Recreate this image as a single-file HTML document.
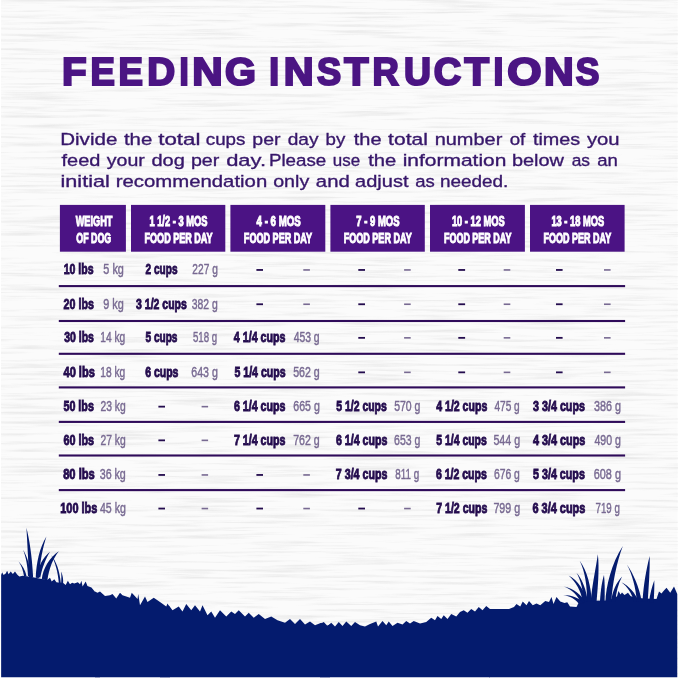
<!DOCTYPE html>
<html><head><meta charset="utf-8"><title>Feeding Instructions</title>
<style>
html,body{margin:0;padding:0;background:#ffffff;}
body{width:679px;height:679px;overflow:hidden;font-family:"Liberation Sans",sans-serif;}
svg{display:block;position:absolute;left:0;top:0;will-change:transform;}
text{font-family:"Liberation Sans",sans-serif;}
</style></head><body>
<svg width="679" height="679" viewBox="0 0 679 679">
<defs>
<filter id="wood" x="0" y="0" width="100%" height="100%">
<feTurbulence type="fractalNoise" baseFrequency="0.012 0.33" numOctaves="4" seed="5" result="n"/>
<feColorMatrix type="matrix" values="0 0 0 0 0.5  0 0 0 0 0.5  0 0 0 0 0.5  1.7 0 0 0 -0.80"/>
</filter>
</defs>
<rect x="0" y="0" width="679" height="679" fill="#ffffff"/>
<rect x="1" y="0" width="676.5" height="677" fill="#fbfbfb"/>
<rect x="1" y="0" width="676.5" height="677" filter="url(#wood)" opacity="0.4"/>
<g fill="#041b6e">
<!-- left part: 7x coords, offset (0,520) -->
<g transform="translate(0,520) scale(0.142857)">
<path d="M8,385 L15,365 L25,385 L40,375 L50,355 L60,380 L75,360 L90,378 L105,360 L120,382 L135,395 L160,390 L200,395 L240,402 L275,410 L330,420 L350,405 L362,430 L380,415 L395,435 L420,440 L440,440 L460,455 L475,425 L490,450 L505,440 L520,445 L545,435 L560,450 L570,425 L578,465 L600,430 L612,462 L640,472 L679,520 L700,540 L700,1100 L8,1100 Z"/>
<path d="M203,400 C199,300 191,160 185,55 C206,140 224,250 232,402 Z"/>
<path d="M250,404 C254,300 278,190 325,115 C300,190 280,290 272,406 Z"/>
<path d="M196,392 C194,320 180,255 162,208 C190,255 210,320 216,392 Z"/>
<path d="M168,392 C162,350 148,315 130,290 C155,315 178,350 186,394 Z"/>
<path d="M292,416 C302,335 346,262 412,218 C372,268 342,340 332,422 Z"/>
<path d="M258,400 C268,320 302,260 350,222 C322,268 296,330 282,402 Z"/>
<path d="M358,245 C395,290 418,360 426,442 L412,442 C406,370 390,300 358,245 Z"/>
<path d="M428,442 C430,410 430,385 428,360 C438,385 444,410 442,444 Z"/>
</g>
<!-- segment 1b: 4x coords offset (0,509), from x=97 onwards -->
<g transform="translate(0,509) scale(0.25)">
<path d="M380,330 L390,335 L400,330 L420,348 L440,345 L450,340 L465,358 L480,335 L490,345 L520,355 L527,335 L550,360 L553,340 L560,385 L580,350 L590,372 L615,355 L640,372 L665,390 L670,378 L680,395 L680,673.2 L380,673.2 Z"/>
</g>
<!-- segment 2: offset (160,509) -->
<g transform="translate(160,509) scale(0.25)">
<path d="M0,375 L10,385 L25,400 L35,385 L50,405 L75,390 L90,410 L105,380 L125,405 L140,385 L160,410 L170,385 L190,425 L205,410 L220,435 L240,405 L265,430 L285,410 L300,420 L315,405 L340,430 L355,415 L375,435 L395,420 L420,440 L445,430 L470,445 L500,455 L520,440 L540,460 L560,440 L580,462 L600,450 L620,465 L645,455 L660,470 L680,462 L680,673.2 L0,673.2 Z"/>
</g>
<!-- segment 3: offset (320,509) -->
<g transform="translate(320,509) scale(0.25)">
<path d="M0,460 L15,452 L30,468 L45,455 L60,470 L75,452 L90,468 L105,450 L125,468 L140,452 L160,465 L180,470 L200,460 L225,450 L232,470 L250,448 L265,465 L275,450 L290,468 L310,455 L330,462 L345,448 L360,458 L375,448 L400,458 L425,452 L445,435 L460,445 L470,428 L485,440 L495,425 L510,440 L525,420 L545,430 L560,412 L575,405 L590,415 L605,400 L620,410 L635,392 L650,405 L665,388 L680,400 L680,673.2 L0,673.2 Z"/>
</g>
<!-- segment 4 body: 4x coords offset (509,509) -->
<g transform="translate(509,509) scale(0.25)">
<path d="M-80,400 L0,400 L20,392 L30,380 L45,390 L55,370 L70,385 L80,368 L95,385 L110,378 L125,385 L145,368 L160,372 L170,352 L178,380 L190,352 L205,370 L222,376 L233,373 L244,390 L270,392 L278,376 L298,367 L400,366 L420,354 L432,350 L438,328 L446,342 L452,334 L462,344 L476,335 L486,348 L500,354 L540,358 L590,360 L600,330 L610,338 L618,328 L630,315 L645,335 L660,310 L673,340 L673,673.2 L-80,673.2 Z"/>
</g>
<!-- right clump blades: 7x coords offset (550,530) -->
<g transform="translate(550,530) scale(0.142857)">
<path d="M388,500 C392,400 430,230 510,112 C468,220 436,380 430,500 Z"/>
<path d="M285,500 C296,380 322,260 335,170 C346,270 336,390 326,500 Z"/>
<path d="M258,500 C262,400 245,290 208,215 C262,290 288,400 292,500 Z"/>
<path d="M236,500 C234,430 215,350 185,300 C230,350 256,430 264,500 Z"/>
<path d="M228,500 C220,430 180,360 130,318 C195,350 245,430 258,500 Z"/>
<path d="M212,505 C200,460 150,415 98,395 C165,410 225,455 244,505 Z"/>
<path d="M198,512 C180,485 140,462 92,455 C150,455 210,478 238,512 Z"/>
<path d="M350,500 C354,420 364,360 378,315 C384,370 384,430 382,500 Z"/>
<path d="M428,500 C436,430 462,370 505,325 C478,375 462,435 458,500 Z"/>
<path d="M588,500 C572,440 540,395 500,365 C552,390 596,440 622,500 Z"/>
<path d="M608,500 C600,400 575,310 538,242 C585,310 625,400 642,500 Z"/>
<path d="M648,500 C655,380 675,270 698,182 C700,290 690,400 684,500 Z"/>
<path d="M693,505 C700,450 714,395 730,352 C732,400 728,455 726,505 Z"/>
</g>
</g>

<rect x="59.9" y="204.9" width="66.00" height="46.8" fill="#4b1384"/>
<rect x="131.0" y="204.9" width="94.30" height="46.8" fill="#4b1384"/>
<rect x="230.4" y="204.9" width="94.90" height="46.8" fill="#4b1384"/>
<rect x="330.4" y="204.9" width="94.40" height="46.8" fill="#4b1384"/>
<rect x="430.0" y="204.9" width="94.90" height="46.8" fill="#4b1384"/>
<rect x="530.0" y="204.9" width="94.60" height="46.8" fill="#4b1384"/>
<rect x="58.8" y="285.05" width="566.30" height="2.1" fill="#2f0b5a"/>
<rect x="58.8" y="319.95" width="566.30" height="2.1" fill="#2f0b5a"/>
<rect x="58.8" y="352.75" width="566.30" height="2.1" fill="#2f0b5a"/>
<rect x="58.8" y="386.35" width="566.30" height="2.1" fill="#2f0b5a"/>
<rect x="58.8" y="420.85" width="566.30" height="2.1" fill="#2f0b5a"/>
<rect x="58.8" y="454.45" width="566.30" height="2.1" fill="#2f0b5a"/>
<rect x="58.8" y="489.05" width="566.30" height="2.1" fill="#2f0b5a"/>
<rect x="158.4" y="405.75" width="6.60" height="1.8" fill="#240c4e"/>
<rect x="201.6" y="405.85" width="6.50" height="1.6" fill="#786a92"/>
<rect x="158.4" y="439.45" width="6.60" height="1.8" fill="#240c4e"/>
<rect x="201.6" y="439.55" width="6.50" height="1.6" fill="#786a92"/>
<rect x="158.4" y="474.05" width="6.60" height="1.8" fill="#240c4e"/>
<rect x="201.6" y="474.15" width="6.50" height="1.6" fill="#786a92"/>
<rect x="158.4" y="507.65" width="6.60" height="1.8" fill="#240c4e"/>
<rect x="201.6" y="507.75" width="6.50" height="1.6" fill="#786a92"/>
<rect x="256.4" y="269.05" width="6.60" height="1.8" fill="#240c4e"/>
<rect x="303.3" y="269.15" width="6.60" height="1.6" fill="#786a92"/>
<rect x="256.4" y="303.35" width="6.60" height="1.8" fill="#240c4e"/>
<rect x="303.3" y="303.45" width="6.60" height="1.6" fill="#786a92"/>
<rect x="256.4" y="474.05" width="6.60" height="1.8" fill="#240c4e"/>
<rect x="303.3" y="474.15" width="6.60" height="1.6" fill="#786a92"/>
<rect x="256.4" y="507.65" width="6.60" height="1.8" fill="#240c4e"/>
<rect x="303.3" y="507.75" width="6.60" height="1.6" fill="#786a92"/>
<rect x="358.3" y="269.05" width="6.70" height="1.8" fill="#240c4e"/>
<rect x="404.1" y="269.15" width="6.60" height="1.6" fill="#786a92"/>
<rect x="358.3" y="303.35" width="6.70" height="1.8" fill="#240c4e"/>
<rect x="404.1" y="303.45" width="6.60" height="1.6" fill="#786a92"/>
<rect x="358.3" y="336.95" width="6.70" height="1.8" fill="#240c4e"/>
<rect x="404.1" y="337.05" width="6.60" height="1.6" fill="#786a92"/>
<rect x="358.3" y="371.45" width="6.70" height="1.8" fill="#240c4e"/>
<rect x="404.1" y="371.55" width="6.60" height="1.6" fill="#786a92"/>
<rect x="358.3" y="507.65" width="6.70" height="1.8" fill="#240c4e"/>
<rect x="404.1" y="507.75" width="6.60" height="1.6" fill="#786a92"/>
<rect x="458.3" y="269.05" width="6.80" height="1.8" fill="#240c4e"/>
<rect x="503.7" y="269.15" width="6.60" height="1.6" fill="#786a92"/>
<rect x="458.3" y="303.35" width="6.80" height="1.8" fill="#240c4e"/>
<rect x="503.7" y="303.45" width="6.60" height="1.6" fill="#786a92"/>
<rect x="458.3" y="336.95" width="6.80" height="1.8" fill="#240c4e"/>
<rect x="503.7" y="337.05" width="6.60" height="1.6" fill="#786a92"/>
<rect x="458.3" y="371.45" width="6.80" height="1.8" fill="#240c4e"/>
<rect x="503.7" y="371.55" width="6.60" height="1.6" fill="#786a92"/>
<rect x="556.0" y="269.05" width="6.60" height="1.8" fill="#240c4e"/>
<rect x="604.0" y="269.15" width="6.60" height="1.6" fill="#786a92"/>
<rect x="556.0" y="303.35" width="6.60" height="1.8" fill="#240c4e"/>
<rect x="604.0" y="303.45" width="6.60" height="1.6" fill="#786a92"/>
<rect x="556.0" y="336.95" width="6.60" height="1.8" fill="#240c4e"/>
<rect x="604.0" y="337.05" width="6.60" height="1.6" fill="#786a92"/>
<rect x="556.0" y="371.45" width="6.60" height="1.8" fill="#240c4e"/>
<rect x="604.0" y="371.55" width="6.60" height="1.6" fill="#786a92"/>
<text x="62.00" y="84.60" font-size="39.1" font-weight="bold" fill="#4b1583" textLength="24.62" lengthAdjust="spacingAndGlyphs" stroke="#4b1583" stroke-width="2.2">F</text>
<text x="90.42" y="84.60" font-size="39.1" font-weight="bold" fill="#4b1583" textLength="24.38" lengthAdjust="spacingAndGlyphs" stroke="#4b1583" stroke-width="2.2">E</text>
<text x="118.59" y="84.60" font-size="39.1" font-weight="bold" fill="#4b1583" textLength="24.43" lengthAdjust="spacingAndGlyphs" stroke="#4b1583" stroke-width="2.2">E</text>
<text x="147.28" y="84.60" font-size="39.1" font-weight="bold" fill="#4b1583" textLength="27.89" lengthAdjust="spacingAndGlyphs" stroke="#4b1583" stroke-width="2.2">D</text>
<text x="179.47" y="84.60" font-size="39.1" font-weight="bold" fill="#4b1583" textLength="9.20" lengthAdjust="spacingAndGlyphs" stroke="#4b1583" stroke-width="2.2">I</text>
<text x="192.38" y="84.60" font-size="39.1" font-weight="bold" fill="#4b1583" textLength="30.41" lengthAdjust="spacingAndGlyphs" stroke="#4b1583" stroke-width="2.2">N</text>
<text x="225.05" y="84.60" font-size="39.1" font-weight="bold" fill="#4b1583" textLength="30.95" lengthAdjust="spacingAndGlyphs" stroke="#4b1583" stroke-width="2.2">G</text>
<text x="269.31" y="84.60" font-size="39.1" font-weight="bold" fill="#4b1583" textLength="9.82" lengthAdjust="spacingAndGlyphs" stroke="#4b1583" stroke-width="2.2">I</text>
<text x="283.71" y="84.60" font-size="39.1" font-weight="bold" fill="#4b1583" textLength="29.86" lengthAdjust="spacingAndGlyphs" stroke="#4b1583" stroke-width="2.2">N</text>
<text x="316.94" y="84.60" font-size="39.1" font-weight="bold" fill="#4b1583" textLength="24.15" lengthAdjust="spacingAndGlyphs" stroke="#4b1583" stroke-width="2.2">S</text>
<text x="344.22" y="84.60" font-size="39.1" font-weight="bold" fill="#4b1583" textLength="24.24" lengthAdjust="spacingAndGlyphs" stroke="#4b1583" stroke-width="2.2">T</text>
<text x="372.58" y="84.60" font-size="39.1" font-weight="bold" fill="#4b1583" textLength="26.30" lengthAdjust="spacingAndGlyphs" stroke="#4b1583" stroke-width="2.2">R</text>
<text x="403.95" y="84.60" font-size="39.1" font-weight="bold" fill="#4b1583" textLength="26.99" lengthAdjust="spacingAndGlyphs" stroke="#4b1583" stroke-width="2.2">U</text>
<text x="433.79" y="84.60" font-size="39.1" font-weight="bold" fill="#4b1583" textLength="27.47" lengthAdjust="spacingAndGlyphs" stroke="#4b1583" stroke-width="2.2">C</text>
<text x="464.42" y="84.60" font-size="39.1" font-weight="bold" fill="#4b1583" textLength="24.53" lengthAdjust="spacingAndGlyphs" stroke="#4b1583" stroke-width="2.2">T</text>
<text x="493.60" y="84.60" font-size="39.1" font-weight="bold" fill="#4b1583" textLength="9.86" lengthAdjust="spacingAndGlyphs" stroke="#4b1583" stroke-width="2.2">I</text>
<text x="507.20" y="84.60" font-size="39.1" font-weight="bold" fill="#4b1583" textLength="34.35" lengthAdjust="spacingAndGlyphs" stroke="#4b1583" stroke-width="2.2">O</text>
<text x="544.14" y="84.60" font-size="39.1" font-weight="bold" fill="#4b1583" textLength="29.67" lengthAdjust="spacingAndGlyphs" stroke="#4b1583" stroke-width="2.2">N</text>
<text x="575.75" y="84.60" font-size="39.1" font-weight="bold" fill="#4b1583" textLength="23.62" lengthAdjust="spacingAndGlyphs" stroke="#4b1583" stroke-width="2.2">S</text>
<text x="60.22" y="144.55" font-size="17.1" font-weight="normal" fill="#37176a" textLength="57.10" lengthAdjust="spacingAndGlyphs" stroke="#37176a" stroke-width="0.35">Divide</text>
<text x="123.94" y="144.55" font-size="17.1" font-weight="normal" fill="#37176a" textLength="28.37" lengthAdjust="spacingAndGlyphs" stroke="#37176a" stroke-width="0.35">the</text>
<text x="158.20" y="144.55" font-size="17.1" font-weight="normal" fill="#37176a" textLength="42.20" lengthAdjust="spacingAndGlyphs" stroke="#37176a" stroke-width="0.35">total</text>
<text x="205.74" y="144.55" font-size="17.1" font-weight="normal" fill="#37176a" textLength="39.68" lengthAdjust="spacingAndGlyphs" stroke="#37176a" stroke-width="0.35">cups</text>
<text x="252.28" y="144.55" font-size="17.1" font-weight="normal" fill="#37176a" textLength="28.25" lengthAdjust="spacingAndGlyphs" stroke="#37176a" stroke-width="0.35">per</text>
<text x="287.68" y="144.55" font-size="17.1" font-weight="normal" fill="#37176a" textLength="30.77" lengthAdjust="spacingAndGlyphs" stroke="#37176a" stroke-width="0.35">day</text>
<text x="325.53" y="144.55" font-size="17.1" font-weight="normal" fill="#37176a" textLength="19.77" lengthAdjust="spacingAndGlyphs" stroke="#37176a" stroke-width="0.35">by</text>
<text x="353.76" y="144.55" font-size="17.1" font-weight="normal" fill="#37176a" textLength="27.81" lengthAdjust="spacingAndGlyphs" stroke="#37176a" stroke-width="0.35">the</text>
<text x="388.14" y="144.55" font-size="17.1" font-weight="normal" fill="#37176a" textLength="39.76" lengthAdjust="spacingAndGlyphs" stroke="#37176a" stroke-width="0.35">total</text>
<text x="434.65" y="144.55" font-size="17.1" font-weight="normal" fill="#37176a" textLength="67.69" lengthAdjust="spacingAndGlyphs" stroke="#37176a" stroke-width="0.35">number</text>
<text x="509.72" y="144.55" font-size="17.1" font-weight="normal" fill="#37176a" textLength="15.56" lengthAdjust="spacingAndGlyphs" stroke="#37176a" stroke-width="0.35">of</text>
<text x="532.98" y="144.55" font-size="17.1" font-weight="normal" fill="#37176a" textLength="47.22" lengthAdjust="spacingAndGlyphs" stroke="#37176a" stroke-width="0.35">times</text>
<text x="586.95" y="144.55" font-size="17.1" font-weight="normal" fill="#37176a" textLength="32.64" lengthAdjust="spacingAndGlyphs" stroke="#37176a" stroke-width="0.35">you</text>
<text x="61.50" y="165.65" font-size="17.1" font-weight="normal" fill="#37176a" textLength="38.86" lengthAdjust="spacingAndGlyphs" stroke="#37176a" stroke-width="0.35">feed</text>
<text x="106.76" y="165.65" font-size="17.1" font-weight="normal" fill="#37176a" textLength="38.04" lengthAdjust="spacingAndGlyphs" stroke="#37176a" stroke-width="0.35">your</text>
<text x="151.47" y="165.65" font-size="17.1" font-weight="normal" fill="#37176a" textLength="33.42" lengthAdjust="spacingAndGlyphs" stroke="#37176a" stroke-width="0.35">dog</text>
<text x="190.92" y="165.65" font-size="17.1" font-weight="normal" fill="#37176a" textLength="28.45" lengthAdjust="spacingAndGlyphs" stroke="#37176a" stroke-width="0.35">per</text>
<text x="226.18" y="165.65" font-size="17.1" font-weight="normal" fill="#37176a" textLength="39.84" lengthAdjust="spacingAndGlyphs" stroke="#37176a" stroke-width="0.35">day.</text>
<text x="268.91" y="165.65" font-size="17.1" font-weight="normal" fill="#37176a" textLength="57.38" lengthAdjust="spacingAndGlyphs" stroke="#37176a" stroke-width="0.35">Please</text>
<text x="332.86" y="165.65" font-size="17.1" font-weight="normal" fill="#37176a" textLength="27.34" lengthAdjust="spacingAndGlyphs" stroke="#37176a" stroke-width="0.35">use</text>
<text x="368.15" y="165.65" font-size="17.1" font-weight="normal" fill="#37176a" textLength="28.14" lengthAdjust="spacingAndGlyphs" stroke="#37176a" stroke-width="0.35">the</text>
<text x="402.72" y="165.65" font-size="17.1" font-weight="normal" fill="#37176a" textLength="103.67" lengthAdjust="spacingAndGlyphs" stroke="#37176a" stroke-width="0.35">information</text>
<text x="511.92" y="165.65" font-size="17.1" font-weight="normal" fill="#37176a" textLength="52.09" lengthAdjust="spacingAndGlyphs" stroke="#37176a" stroke-width="0.35">below</text>
<text x="571.72" y="165.65" font-size="17.1" font-weight="normal" fill="#37176a" textLength="18.32" lengthAdjust="spacingAndGlyphs" stroke="#37176a" stroke-width="0.35">as</text>
<text x="597.16" y="165.65" font-size="17.1" font-weight="normal" fill="#37176a" textLength="20.63" lengthAdjust="spacingAndGlyphs" stroke="#37176a" stroke-width="0.35">an</text>
<text x="60.48" y="186.85" font-size="17.1" font-weight="normal" fill="#37176a" textLength="49.36" lengthAdjust="spacingAndGlyphs" stroke="#37176a" stroke-width="0.35">initial</text>
<text x="115.78" y="186.85" font-size="17.1" font-weight="normal" fill="#37176a" textLength="151.45" lengthAdjust="spacingAndGlyphs" stroke="#37176a" stroke-width="0.35">recommendation</text>
<text x="273.16" y="186.85" font-size="17.1" font-weight="normal" fill="#37176a" textLength="36.07" lengthAdjust="spacingAndGlyphs" stroke="#37176a" stroke-width="0.35">only</text>
<text x="315.88" y="186.85" font-size="17.1" font-weight="normal" fill="#37176a" textLength="33.85" lengthAdjust="spacingAndGlyphs" stroke="#37176a" stroke-width="0.35">and</text>
<text x="355.04" y="186.85" font-size="17.1" font-weight="normal" fill="#37176a" textLength="53.44" lengthAdjust="spacingAndGlyphs" stroke="#37176a" stroke-width="0.35">adjust</text>
<text x="415.17" y="186.85" font-size="17.1" font-weight="normal" fill="#37176a" textLength="19.56" lengthAdjust="spacingAndGlyphs" stroke="#37176a" stroke-width="0.35">as</text>
<text x="439.97" y="186.85" font-size="17.1" font-weight="normal" fill="#37176a" textLength="68.39" lengthAdjust="spacingAndGlyphs" stroke="#37176a" stroke-width="0.35">needed.</text>
<text x="75.63" y="225.80" font-size="14.5" font-weight="bold" fill="#ffffff" textLength="36.77" lengthAdjust="spacingAndGlyphs" stroke="#ffffff" stroke-width="1.0">WEIGHT</text>
<text x="76.29" y="243.20" font-size="14.5" font-weight="bold" fill="#ffffff" textLength="34.94" lengthAdjust="spacingAndGlyphs" stroke="#ffffff" stroke-width="1.0">OF DOG</text>
<text x="149.42" y="225.80" font-size="14.5" font-weight="bold" fill="#ffffff" textLength="58.05" lengthAdjust="spacingAndGlyphs" stroke="#ffffff" stroke-width="1.0">1 1/2 - 3 MOS</text>
<text x="144.55" y="243.20" font-size="14.5" font-weight="bold" fill="#ffffff" textLength="68.07" lengthAdjust="spacingAndGlyphs" stroke="#ffffff" stroke-width="1.0">FOOD PER DAY</text>
<text x="256.60" y="225.80" font-size="14.5" font-weight="bold" fill="#ffffff" textLength="44.15" lengthAdjust="spacingAndGlyphs" stroke="#ffffff" stroke-width="1.0">4 - 6 MOS</text>
<text x="243.83" y="243.20" font-size="14.5" font-weight="bold" fill="#ffffff" textLength="68.29" lengthAdjust="spacingAndGlyphs" stroke="#ffffff" stroke-width="1.0">FOOD PER DAY</text>
<text x="356.30" y="225.80" font-size="14.5" font-weight="bold" fill="#ffffff" textLength="43.26" lengthAdjust="spacingAndGlyphs" stroke="#ffffff" stroke-width="1.0">7 - 9 MOS</text>
<text x="343.73" y="243.20" font-size="14.5" font-weight="bold" fill="#ffffff" textLength="67.95" lengthAdjust="spacingAndGlyphs" stroke="#ffffff" stroke-width="1.0">FOOD PER DAY</text>
<text x="451.96" y="225.80" font-size="14.5" font-weight="bold" fill="#ffffff" textLength="52.64" lengthAdjust="spacingAndGlyphs" stroke="#ffffff" stroke-width="1.0">10 - 12 MOS</text>
<text x="444.00" y="243.20" font-size="14.5" font-weight="bold" fill="#ffffff" textLength="67.37" lengthAdjust="spacingAndGlyphs" stroke="#ffffff" stroke-width="1.0">FOOD PER DAY</text>
<text x="551.42" y="225.80" font-size="14.5" font-weight="bold" fill="#ffffff" textLength="52.72" lengthAdjust="spacingAndGlyphs" stroke="#ffffff" stroke-width="1.0">13 - 18 MOS</text>
<text x="543.51" y="243.20" font-size="14.5" font-weight="bold" fill="#ffffff" textLength="67.63" lengthAdjust="spacingAndGlyphs" stroke="#ffffff" stroke-width="1.0">FOOD PER DAY</text>
<text x="63.71" y="274.35" font-size="15.0" font-weight="bold" fill="#240c4e" textLength="29.84" lengthAdjust="spacingAndGlyphs" stroke="#240c4e" stroke-width="0.9">10 lbs</text>
<text x="103.35" y="274.35" font-size="15.0" font-weight="normal" fill="#786a92" textLength="20.55" lengthAdjust="spacingAndGlyphs" stroke="#786a92" stroke-width="0.45">5 kg</text>
<text x="145.59" y="274.35" font-size="15.0" font-weight="bold" fill="#240c4e" textLength="31.90" lengthAdjust="spacingAndGlyphs" stroke="#240c4e" stroke-width="0.9">2 cups</text>
<text x="192.36" y="274.35" font-size="15.0" font-weight="normal" fill="#786a92" textLength="25.45" lengthAdjust="spacingAndGlyphs" stroke="#786a92" stroke-width="0.45">227 g</text>
<text x="63.60" y="308.65" font-size="15.0" font-weight="bold" fill="#240c4e" textLength="30.26" lengthAdjust="spacingAndGlyphs" stroke="#240c4e" stroke-width="0.9">20 lbs</text>
<text x="103.29" y="308.65" font-size="15.0" font-weight="normal" fill="#786a92" textLength="20.59" lengthAdjust="spacingAndGlyphs" stroke="#786a92" stroke-width="0.45">9 kg</text>
<text x="136.11" y="308.65" font-size="15.0" font-weight="bold" fill="#240c4e" textLength="50.66" lengthAdjust="spacingAndGlyphs" stroke="#240c4e" stroke-width="0.9">3 1/2 cups</text>
<text x="191.78" y="308.65" font-size="15.0" font-weight="normal" fill="#786a92" textLength="26.03" lengthAdjust="spacingAndGlyphs" stroke="#786a92" stroke-width="0.45">382 g</text>
<text x="64.19" y="342.25" font-size="15.0" font-weight="bold" fill="#240c4e" textLength="29.68" lengthAdjust="spacingAndGlyphs" stroke="#240c4e" stroke-width="0.9">30 lbs</text>
<text x="100.21" y="342.25" font-size="15.0" font-weight="normal" fill="#786a92" textLength="24.99" lengthAdjust="spacingAndGlyphs" stroke="#786a92" stroke-width="0.45">14 kg</text>
<text x="145.49" y="342.25" font-size="15.0" font-weight="bold" fill="#240c4e" textLength="32.00" lengthAdjust="spacingAndGlyphs" stroke="#240c4e" stroke-width="0.9">5 cups</text>
<text x="192.94" y="342.25" font-size="15.0" font-weight="normal" fill="#786a92" textLength="24.19" lengthAdjust="spacingAndGlyphs" stroke="#786a92" stroke-width="0.45">518 g</text>
<text x="233.85" y="342.25" font-size="15.0" font-weight="bold" fill="#240c4e" textLength="51.64" lengthAdjust="spacingAndGlyphs" stroke="#240c4e" stroke-width="0.9">4 1/4 cups</text>
<text x="293.63" y="342.25" font-size="15.0" font-weight="normal" fill="#786a92" textLength="26.03" lengthAdjust="spacingAndGlyphs" stroke="#786a92" stroke-width="0.45">453 g</text>
<text x="63.52" y="376.75" font-size="15.0" font-weight="bold" fill="#240c4e" textLength="31.30" lengthAdjust="spacingAndGlyphs" stroke="#240c4e" stroke-width="0.9">40 lbs</text>
<text x="100.21" y="376.75" font-size="15.0" font-weight="normal" fill="#786a92" textLength="24.99" lengthAdjust="spacingAndGlyphs" stroke="#786a92" stroke-width="0.45">18 kg</text>
<text x="145.15" y="376.75" font-size="15.0" font-weight="bold" fill="#240c4e" textLength="33.30" lengthAdjust="spacingAndGlyphs" stroke="#240c4e" stroke-width="0.9">6 cups</text>
<text x="191.26" y="376.75" font-size="15.0" font-weight="normal" fill="#786a92" textLength="26.58" lengthAdjust="spacingAndGlyphs" stroke="#786a92" stroke-width="0.45">643 g</text>
<text x="234.47" y="376.75" font-size="15.0" font-weight="bold" fill="#240c4e" textLength="51.08" lengthAdjust="spacingAndGlyphs" stroke="#240c4e" stroke-width="0.9">5 1/4 cups</text>
<text x="293.18" y="376.75" font-size="15.0" font-weight="normal" fill="#786a92" textLength="26.57" lengthAdjust="spacingAndGlyphs" stroke="#786a92" stroke-width="0.45">562 g</text>
<text x="63.46" y="411.05" font-size="15.0" font-weight="bold" fill="#240c4e" textLength="30.39" lengthAdjust="spacingAndGlyphs" stroke="#240c4e" stroke-width="0.9">50 lbs</text>
<text x="100.46" y="411.05" font-size="15.0" font-weight="normal" fill="#786a92" textLength="25.23" lengthAdjust="spacingAndGlyphs" stroke="#786a92" stroke-width="0.45">23 kg</text>
<text x="233.92" y="411.05" font-size="15.0" font-weight="bold" fill="#240c4e" textLength="51.64" lengthAdjust="spacingAndGlyphs" stroke="#240c4e" stroke-width="0.9">6 1/4 cups</text>
<text x="293.30" y="411.05" font-size="15.0" font-weight="normal" fill="#786a92" textLength="26.47" lengthAdjust="spacingAndGlyphs" stroke="#786a92" stroke-width="0.45">665 g</text>
<text x="336.27" y="411.05" font-size="15.0" font-weight="bold" fill="#240c4e" textLength="50.55" lengthAdjust="spacingAndGlyphs" stroke="#240c4e" stroke-width="0.9">5 1/2 cups</text>
<text x="394.13" y="411.05" font-size="15.0" font-weight="normal" fill="#786a92" textLength="26.23" lengthAdjust="spacingAndGlyphs" stroke="#786a92" stroke-width="0.45">570 g</text>
<text x="436.21" y="411.05" font-size="15.0" font-weight="bold" fill="#240c4e" textLength="51.06" lengthAdjust="spacingAndGlyphs" stroke="#240c4e" stroke-width="0.9">4 1/2 cups</text>
<text x="494.46" y="411.05" font-size="15.0" font-weight="normal" fill="#786a92" textLength="25.26" lengthAdjust="spacingAndGlyphs" stroke="#786a92" stroke-width="0.45">475 g</text>
<text x="533.11" y="411.05" font-size="15.0" font-weight="bold" fill="#240c4e" textLength="51.77" lengthAdjust="spacingAndGlyphs" stroke="#240c4e" stroke-width="0.9">3 3/4 cups</text>
<text x="594.03" y="411.05" font-size="15.0" font-weight="normal" fill="#786a92" textLength="26.94" lengthAdjust="spacingAndGlyphs" stroke="#786a92" stroke-width="0.45">386 g</text>
<text x="63.47" y="444.75" font-size="15.0" font-weight="bold" fill="#240c4e" textLength="30.65" lengthAdjust="spacingAndGlyphs" stroke="#240c4e" stroke-width="0.9">60 lbs</text>
<text x="100.46" y="444.75" font-size="15.0" font-weight="normal" fill="#786a92" textLength="25.23" lengthAdjust="spacingAndGlyphs" stroke="#786a92" stroke-width="0.45">27 kg</text>
<text x="233.89" y="444.75" font-size="15.0" font-weight="bold" fill="#240c4e" textLength="51.67" lengthAdjust="spacingAndGlyphs" stroke="#240c4e" stroke-width="0.9">7 1/4 cups</text>
<text x="293.21" y="444.75" font-size="15.0" font-weight="normal" fill="#786a92" textLength="26.53" lengthAdjust="spacingAndGlyphs" stroke="#786a92" stroke-width="0.45">762 g</text>
<text x="335.93" y="444.75" font-size="15.0" font-weight="bold" fill="#240c4e" textLength="51.46" lengthAdjust="spacingAndGlyphs" stroke="#240c4e" stroke-width="0.9">6 1/4 cups</text>
<text x="394.07" y="444.75" font-size="15.0" font-weight="normal" fill="#786a92" textLength="26.25" lengthAdjust="spacingAndGlyphs" stroke="#786a92" stroke-width="0.45">653 g</text>
<text x="436.27" y="444.75" font-size="15.0" font-weight="bold" fill="#240c4e" textLength="50.55" lengthAdjust="spacingAndGlyphs" stroke="#240c4e" stroke-width="0.9">5 1/4 cups</text>
<text x="493.38" y="444.75" font-size="15.0" font-weight="normal" fill="#786a92" textLength="26.77" lengthAdjust="spacingAndGlyphs" stroke="#786a92" stroke-width="0.45">544 g</text>
<text x="532.89" y="444.75" font-size="15.0" font-weight="bold" fill="#240c4e" textLength="52.53" lengthAdjust="spacingAndGlyphs" stroke="#240c4e" stroke-width="0.9">4 3/4 cups</text>
<text x="594.47" y="444.75" font-size="15.0" font-weight="normal" fill="#786a92" textLength="26.46" lengthAdjust="spacingAndGlyphs" stroke="#786a92" stroke-width="0.45">490 g</text>
<text x="63.17" y="479.35" font-size="15.0" font-weight="bold" fill="#240c4e" textLength="31.63" lengthAdjust="spacingAndGlyphs" stroke="#240c4e" stroke-width="0.9">80 lbs</text>
<text x="99.70" y="479.35" font-size="15.0" font-weight="normal" fill="#786a92" textLength="26.12" lengthAdjust="spacingAndGlyphs" stroke="#786a92" stroke-width="0.45">36 kg</text>
<text x="335.87" y="479.35" font-size="15.0" font-weight="bold" fill="#240c4e" textLength="51.48" lengthAdjust="spacingAndGlyphs" stroke="#240c4e" stroke-width="0.9">7 3/4 cups</text>
<text x="395.26" y="479.35" font-size="15.0" font-weight="normal" fill="#786a92" textLength="23.88" lengthAdjust="spacingAndGlyphs" stroke="#786a92" stroke-width="0.45">811 g</text>
<text x="435.93" y="479.35" font-size="15.0" font-weight="bold" fill="#240c4e" textLength="50.91" lengthAdjust="spacingAndGlyphs" stroke="#240c4e" stroke-width="0.9">6 1/2 cups</text>
<text x="493.89" y="479.35" font-size="15.0" font-weight="normal" fill="#786a92" textLength="25.94" lengthAdjust="spacingAndGlyphs" stroke="#786a92" stroke-width="0.45">676 g</text>
<text x="532.99" y="479.35" font-size="15.0" font-weight="bold" fill="#240c4e" textLength="51.89" lengthAdjust="spacingAndGlyphs" stroke="#240c4e" stroke-width="0.9">5 3/4 cups</text>
<text x="593.78" y="479.35" font-size="15.0" font-weight="normal" fill="#786a92" textLength="27.16" lengthAdjust="spacingAndGlyphs" stroke="#786a92" stroke-width="0.45">608 g</text>
<text x="60.32" y="512.95" font-size="15.0" font-weight="bold" fill="#240c4e" textLength="36.95" lengthAdjust="spacingAndGlyphs" stroke="#240c4e" stroke-width="0.9">100 lbs</text>
<text x="99.95" y="512.95" font-size="15.0" font-weight="normal" fill="#786a92" textLength="25.89" lengthAdjust="spacingAndGlyphs" stroke="#786a92" stroke-width="0.45">45 kg</text>
<text x="436.19" y="512.95" font-size="15.0" font-weight="bold" fill="#240c4e" textLength="51.16" lengthAdjust="spacingAndGlyphs" stroke="#240c4e" stroke-width="0.9">7 1/2 cups</text>
<text x="493.41" y="512.95" font-size="15.0" font-weight="normal" fill="#786a92" textLength="26.75" lengthAdjust="spacingAndGlyphs" stroke="#786a92" stroke-width="0.45">799 g</text>
<text x="532.48" y="512.95" font-size="15.0" font-weight="bold" fill="#240c4e" textLength="52.90" lengthAdjust="spacingAndGlyphs" stroke="#240c4e" stroke-width="0.9">6 3/4 cups</text>
<text x="595.50" y="512.95" font-size="15.0" font-weight="normal" fill="#786a92" textLength="24.28" lengthAdjust="spacingAndGlyphs" stroke="#786a92" stroke-width="0.45">719 g</text>
</svg>
</body></html>
